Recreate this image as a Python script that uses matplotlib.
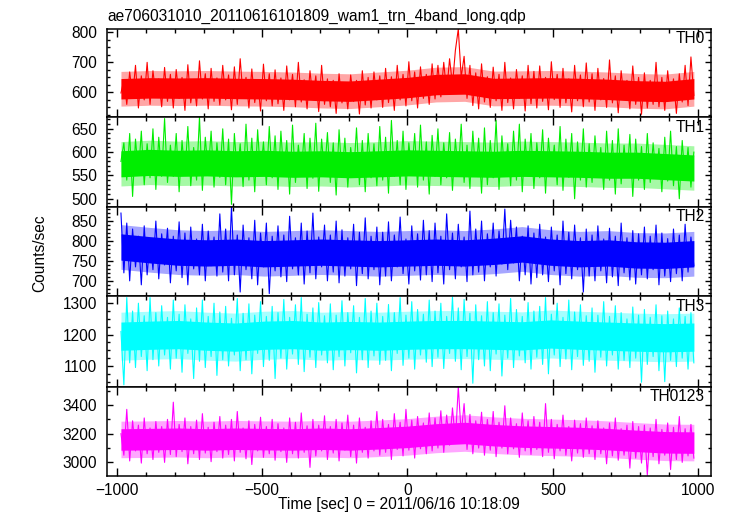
import numpy as np
import matplotlib
matplotlib.use("Agg")
import matplotlib.pyplot as plt
from matplotlib.ticker import MultipleLocator

plt.rcParams['font.family'] = ['Liberation Sans', 'DejaVu Sans']
plt.rcParams['font.size'] = 11.2

title = "ae706031010_20110616101809_wam1_trn_4band_long.qdp"
xlabel = "Time [sec] 0 = 2011/06/16 10:18:09"
ylabel = "Counts/sec"
band_names = ["TH0", "TH1", "TH2", "TH3", "TH0123"]
band_colors = ["#ff0000", "#00ee00", "#0000ff", "#00ffff", "#ff00ff"]

# time bins (s), 10 s light curve and coarse running level
t = np.arange(-985, 986, 10)
t_mid = np.linspace(-985, 985, 21)

# --- light curves (counts/sec) ---
th0 = [598, 642, 560, 668, 585, 690, 548, 655, 575, 700, 560, 672, 590, 645, 552, 683, 570, 660,
       548, 676, 580, 650, 540, 692, 565, 640, 555, 705, 578, 662, 545, 680, 570, 648, 558, 690,
       575, 658, 542, 685, 560, 712, 585, 650, 548, 678, 566, 640, 538, 694, 572, 662, 555, 675,
       562, 648, 540, 688, 575, 660, 552, 700, 568, 642, 545, 672, 580, 655, 536, 690, 560, 645,
       552, 640, 530, 662, 565, 632, 545, 658, 570, 640, 528, 672, 558, 650, 548, 668, 575, 655,
       550, 680, 566, 652, 540, 690, 575, 660, 555, 702, 572, 668, 548, 685, 580, 660, 560, 695,
       578, 690, 585, 700, 600, 712, 625, 740, 811, 650, 720, 580, 690, 556, 665, 545, 695, 568,
       652, 550, 684, 572, 660, 540, 700, 566, 648, 545, 676, 580, 655, 538, 690, 562, 670, 548,
       688, 570, 650, 542, 702, 576, 660, 550, 680, 565, 645, 535, 690, 572, 658, 552, 698, 568,
       662, 540, 680, 575, 646, 550, 708, 565, 655, 532, 672, 578, 640, 545, 688, 560, 650, 527,
       665, 548, 640, 560, 700, 552, 650, 540, 672, 575, 645, 530, 662, 568, 690, 556, 718, 590]

th1 = [580, 620, 540, 640, 505, 628, 552, 645, 530, 618, 545, 650, 520, 632, 548, 672, 535, 615,
       548, 640, 515, 625, 550, 655, 528, 610, 540, 675, 518, 632, 555, 645, 525, 620, 546, 650,
       530, 628, 488, 640, 552, 618, 526, 660, 540, 630, 515, 648, 550, 622, 530, 655, 545, 635,
       520, 645, 548, 625, 510, 658, 535, 615, 552, 640, 522, 630, 544, 662, 516, 628, 550, 642,
       535, 620, 508, 648, 546, 630, 525, 610, 550, 652, 530, 625, 515, 640, 545, 618, 528, 655,
       540, 632, 512, 668, 548, 625, 530, 645, 520, 620, 552, 640, 525, 658, 540, 622, 510, 636,
       548, 650, 530, 620, 545, 642, 518, 628, 552, 660, 535, 615, 522, 645, 548, 630, 512, 652,
       530, 625, 545, 668, 520, 635, 550, 618, 528, 645, 540, 660, 515, 628, 548, 640, 522, 620,
       545, 648, 512, 630, 550, 615, 530, 655, 518, 628, 546, 640, 500, 622, 540, 650, 525, 618,
       535, 635, 548, 610, 520, 645, 540, 625, 510, 650, 532, 615, 546, 638, 505, 628, 540, 612,
       520, 640, 535, 620, 545, 608, 515, 632, 538, 645, 528, 612, 500, 625, 540, 610, 525, 600]

th2 = [870, 720, 845, 700, 830, 735, 812, 690, 838, 715, 805, 728, 850, 705, 818, 740, 832, 695,
       812, 725, 848, 708, 820, 690, 835, 730, 805, 715, 842, 700, 825, 738, 810, 712, 868, 722,
       830, 700, 886, 715, 815, 672, 840, 728, 808, 705, 852, 690, 820, 735, 845, 668, 812, 725,
       838, 710, 815, 698, 862, 730, 808, 715, 845, 692, 825, 720, 870, 705, 810, 735, 840, 700,
       815, 722, 850, 695, 828, 712, 808, 730, 842, 688, 822, 718, 858, 705, 812, 728, 835, 690,
       822, 712, 848, 700, 815, 735, 860, 718, 805, 692, 838, 725, 818, 702, 852, 715, 826, 698,
       845, 720, 812, 692, 868, 728, 820, 705, 842, 735, 810, 698, 875, 715, 830, 722, 850, 700,
       818, 735, 845, 712, 825, 742, 880, 728, 852, 745, 835, 700, 812, 715, 838, 692, 820, 708,
       842, 715, 810, 698, 835, 725, 815, 690, 850, 718, 822, 705, 840, 728, 808, 672, 830, 712,
       815, 700, 838, 725, 805, 695, 832, 710, 812, 688, 845, 720, 808, 702, 826, 692, 818, 715,
       835, 705, 812, 728, 840, 690, 820, 712, 806, 698, 830, 718, 815, 700, 842, 722, 810, 738]

th3 = [1210, 1040, 1318, 1110, 1275, 1095, 1300, 1130, 1260, 1085, 1318, 1120, 1270, 1100, 1292, 1135, 1255, 1090,
       1310, 1125, 1265, 1080, 1295, 1140, 1250, 1060, 1285, 1115, 1310, 1095, 1258, 1130, 1300, 1070, 1272, 1120,
       1290, 1100, 1252, 1135, 1315, 1085, 1268, 1120, 1298, 1075, 1262, 1140, 1305, 1098, 1258, 1118, 1290, 1060,
       1270, 1125, 1312, 1090, 1255, 1138, 1295, 1105, 1318, 1082, 1265, 1128, 1285, 1095, 1302, 1135, 1260, 1110,
       1298, 1088, 1262, 1130, 1308, 1100, 1270, 1142, 1292, 1078, 1255, 1120, 1315, 1095, 1275, 1132, 1300, 1105,
       1258, 1118, 1296, 1085, 1270, 1140, 1318, 1102, 1262, 1125, 1305, 1090, 1280, 1135, 1265, 1112, 1310, 1098,
       1275, 1128, 1300, 1092, 1258, 1140, 1320, 1115, 1285, 1088, 1312, 1130, 1268, 1045, 1295, 1120, 1260, 1100,
       1305, 1085, 1270, 1138, 1298, 1068, 1262, 1125, 1315, 1095, 1280, 1132, 1258, 1110, 1302, 1090, 1275, 1128,
       1290, 1105, 1318, 1075, 1265, 1135, 1300, 1098, 1255, 1122, 1310, 1088, 1272, 1130, 1295, 1102, 1260, 1115,
       1285, 1080, 1262, 1128, 1305, 1100, 1258, 1135, 1292, 1090, 1270, 1118, 1250, 1095, 1288, 1125, 1262, 1048,
       1280, 1105, 1255, 1130, 1295, 1085, 1260, 1050, 1275, 1118, 1250, 1098, 1285, 1125, 1258, 1090, 1270, 1110]

th0123 = [3200, 3050, 3370, 3010, 3290, 3080, 3260, 2995, 3310, 3060, 3240, 3020, 3285, 3070, 3250, 3000, 3300, 3055,
          3420, 3040, 3265, 3075, 3310, 2990, 3250, 3060, 3295, 3020, 3340, 3065, 3245, 3005, 3280, 3075, 3320, 3030,
          3260, 3055, 3300, 3010, 3355, 3070, 3240, 3025, 3290, 2985, 3265, 3080, 3315, 3035, 3250, 3060, 3300, 3015,
          3270, 3075, 3240, 3000, 3310, 3060, 3280, 3030, 3345, 3070, 3255, 2965, 3300, 3045, 3260, 3080, 3325, 3020,
          3250, 3065, 3300, 3010, 3275, 3085, 3330, 3040, 3260, 2995, 3310, 3070, 3245, 3030, 3290, 3080, 3355, 3050,
          3300, 3070, 3265, 3020, 3340, 3090, 3280, 3045, 3370, 3085, 3295, 3030, 3320, 3095, 3275, 3060, 3345, 3080,
          3310, 3100, 3360, 3070, 3330, 3120, 3380, 3150, 3528, 3200, 3410, 3090, 3335, 3060, 3290, 3100, 3350, 3050,
          3300, 3085, 3355, 3040, 3280, 3100, 3395, 3060, 3310, 3095, 3270, 3035, 3345, 3080, 3290, 3055, 3320, 3090,
          3280, 3040, 3410, 3070, 3300, 3025, 3265, 3080, 3330, 3050, 3250, 3010, 3295, 3065, 3270, 3035, 3310, 3060,
          3255, 3020, 3290, 3060, 3240, 2990, 3275, 3045, 3310, 3015, 3235, 3050, 3260, 2960, 3285, 3030, 3250, 2995,
          3260, 2910, 3240, 3040, 3300, 2990, 3230, 3050, 3275, 2950, 3245, 3020, 3320, 3000, 3235, 3045, 3265, 3030]

# running level and typical scatter of each band (dense core of the noise)
th0_mid = [612, 615, 614, 615, 613, 612, 610, 606, 604, 610, 616, 626, 628, 613, 614, 615, 613, 610, 605, 603, 612]
th1_mid = [575, 578, 576, 577, 575, 576, 574, 575, 573, 575, 577, 576, 575, 574, 576, 575, 574, 572, 572, 569, 566]
th2_mid = [785, 778, 772, 770, 772, 768, 770, 772, 770, 768, 770, 772, 770, 774, 780, 772, 768, 770, 765, 764, 768]
th3_mid = [1195, 1198, 1200, 1195, 1192, 1198, 1200, 1195, 1197, 1195, 1198, 1200, 1200, 1198, 1196, 1202, 1198,
           1195, 1192, 1190, 1192]
th0123_mid = [3160, 3162, 3165, 3160, 3165, 3162, 3160, 3165, 3160, 3168, 3178, 3195, 3205, 3190, 3180, 3175, 3170,
              3162, 3150, 3140, 3138]
scatter = [34, 28, 33, 45, 75]

curves = [th0, th1, th2, th3, th0123]
levels = [th0_mid, th1_mid, th2_mid, th3_mid, th0123_mid]

# axis ranges and tick steps
ylims = [(519, 811), (483, 676), (662, 886), (1034, 1323), (2905, 3528)]
ymajor = [100, 50, 50, 100, 200]
yminor = [25, 10, 10, 25, 100]

W, H = 732, 516
fig = plt.figure(figsize=(W / 100, H / 100), dpi=100)

left, right = 107, 711
edges = [29, 116.7, 206.7, 296, 386.7, 476]

for i in range(5):
    top_px, bot_px = edges[i], edges[i + 1]
    ax = fig.add_axes([left / W, 1 - bot_px / H, (right - left) / W, (bot_px - top_px) / H])

    c = band_colors[i]
    mid = np.array(levels[i])
    s = scatter[i]
    # light halo + solid core, then the light curve itself
    ax.fill_between(t_mid, mid - 1.7 * s, mid + 1.7 * s, color=c, alpha=0.35, lw=0)
    ax.fill_between(t_mid, mid - s, mid + s, color=c, lw=0)
    ax.plot(t, curves[i], color=c, lw=0.8)

    ax.set_xlim(-1033, 1044)
    ax.set_ylim(*ylims[i])
    ax.xaxis.set_major_locator(MultipleLocator(500))
    ax.xaxis.set_minor_locator(MultipleLocator(100))
    ax.yaxis.set_major_locator(MultipleLocator(ymajor[i]))
    ax.yaxis.set_minor_locator(MultipleLocator(yminor[i]))

    ax.tick_params(axis='both', which='both', direction='in', top=True, right=True, width=1)
    ax.tick_params(axis='x', which='major', length=6, pad=5)
    ax.tick_params(axis='x', which='minor', length=3)
    ax.tick_params(axis='y', which='major', length=4.5, pad=7)
    ax.tick_params(axis='y', which='minor', length=2.2)
    for sp in ax.spines.values():
        sp.set_linewidth(1.1)

    if i < 4:
        ax.tick_params(axis='x', labelbottom=False)

    ax.text(0.99, 0.835, band_names[i], transform=ax.transAxes, ha='right', va='baseline')

fig.text(left / W, 1 - 20.7 / H, title, ha='left', va='baseline')
fig.text(399 / W, 1 - 509.3 / H, xlabel, ha='center', va='baseline')
fig.text(40 / W, 1 - 253 / H, ylabel, rotation=90, ha='center', va='center')

plt.savefig("out.png", dpi=100)
